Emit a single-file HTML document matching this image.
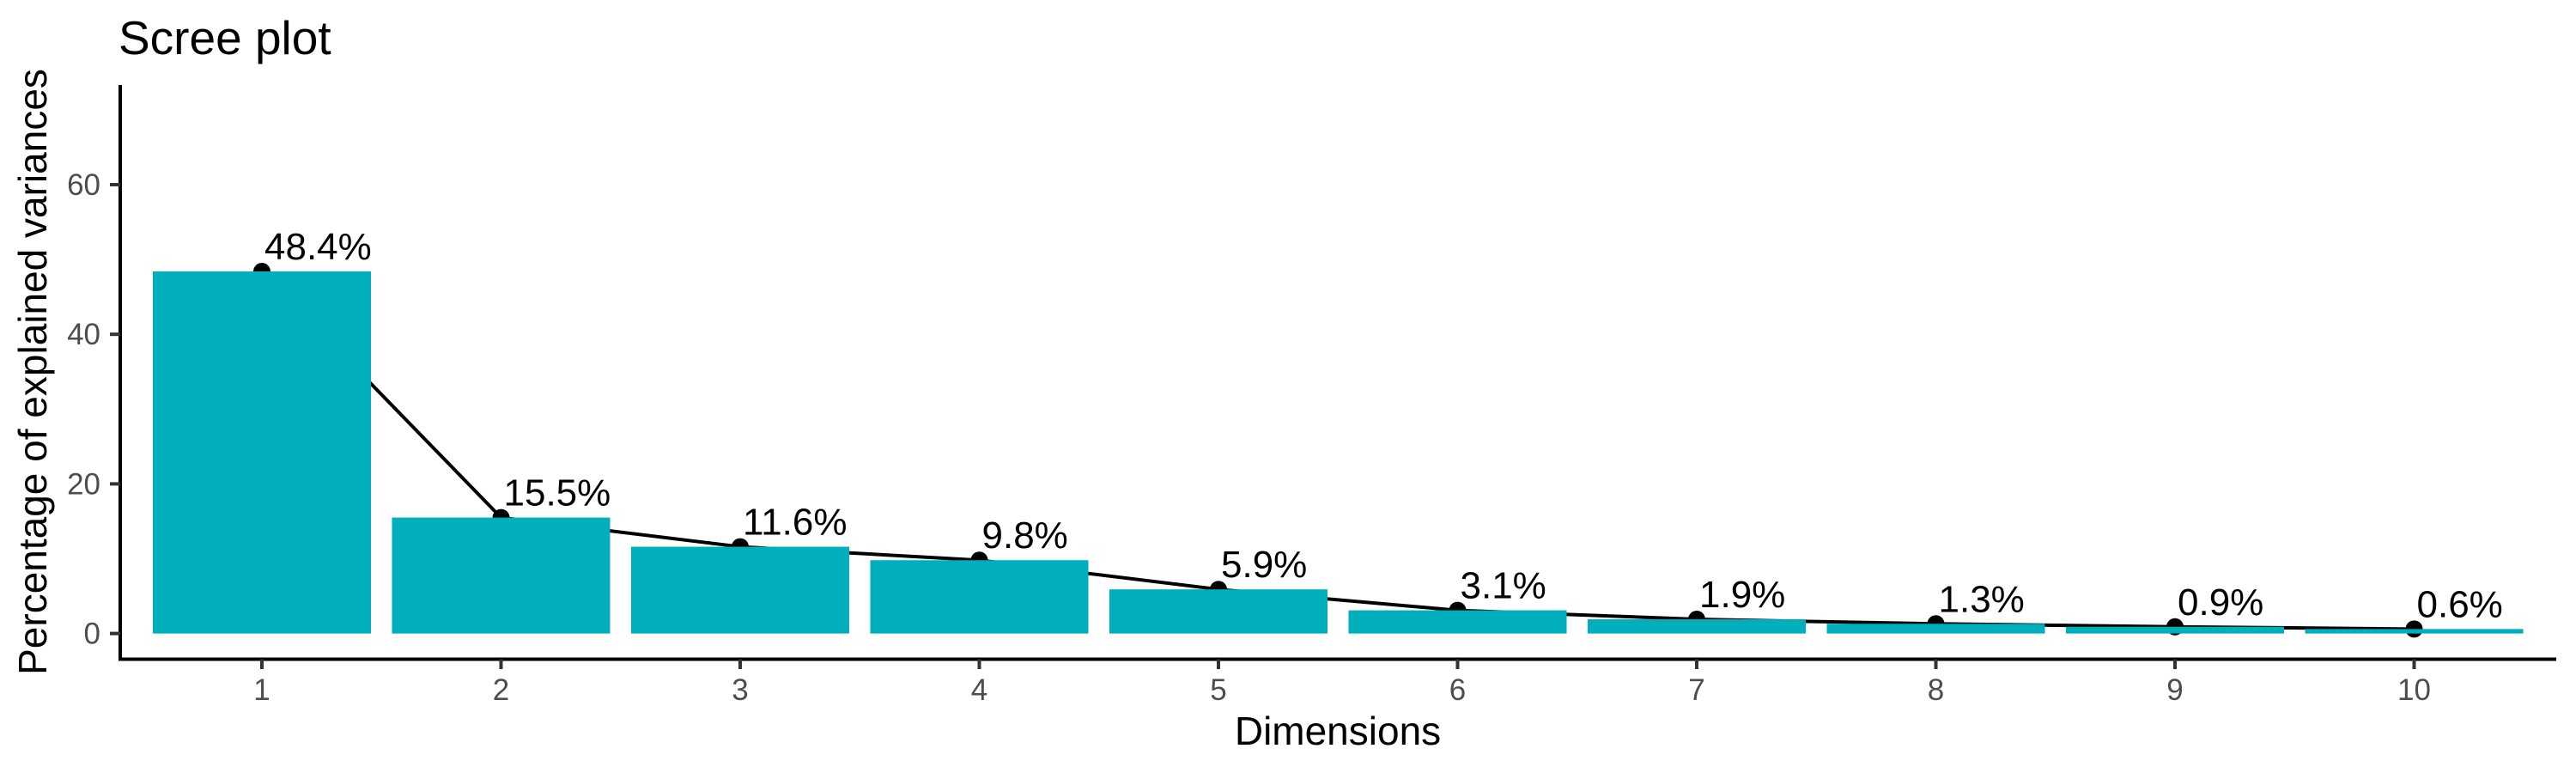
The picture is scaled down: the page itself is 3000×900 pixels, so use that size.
<!DOCTYPE html>
<html><head><meta charset="utf-8"><style>
html,body{margin:0;padding:0;background:#fff;}
svg{display:block;font-family:"Liberation Sans",sans-serif;}
</style></head><body>
<svg id="chart" width="3000" height="900" viewBox="0 0 3000 900" xmlns="http://www.w3.org/2000/svg">
<rect width="3000" height="900" fill="#fff"/>
<text x="138" y="63" font-size="55" fill="#000">Scree plot</text>
<g id="line"></g><g id="bars"></g><g id="labels"></g>
<line x1="140" y1="99" x2="140" y2="769" stroke="#000" stroke-width="4"/>
<line x1="138" y1="767.5" x2="2977" y2="767.5" stroke="#000" stroke-width="4"/>
<g id="yticks"></g><g id="xticks"></g>
<text x="1558" y="867" font-size="46" text-anchor="middle" fill="#000">Dimensions</text>
<text transform="translate(54,433) rotate(-90)" font-size="46" text-anchor="middle" fill="#000">Percentage of explained variances</text>
</svg>
<script>
const categories = [1,2,3,4,5,6,7,8,9,10];
const variances = [48.4,15.5,11.6,9.8,5.9,3.1,1.9,1.3,0.9,0.6];
const valueLabels = ["48.4%","15.5%","11.6%","9.8%","5.9%","3.1%","1.9%","1.3%","0.9%","0.6%"];
const yTicks = [0,20,40,60];

const NS = "http://www.w3.org/2000/svg";
const x = v => 305 + (v - 1) * 278.5;
const y = v => 737.6 - v * 8.71;
const bw = 254;
function mk(tag, attrs, parent){const e=document.createElementNS(NS,tag);for(const k in attrs)e.setAttribute(k,attrs[k]);document.getElementById(parent).appendChild(e);return e;}

const pts = categories.map((c,i)=>x(c)+','+y(variances[i])).join(' ');
const pl = mk('polyline',{points:pts,fill:'none',stroke:'#000','stroke-width':4},'line');


categories.forEach((c,i)=>{
  const p = mk('circle',{cx:x(c),cy:y(variances[i]),r:10,fill:'#000'},'line');
  
  
  const r = mk('rect',{x:x(c)-bw/2,y:y(variances[i]),width:bw,height:y(0)-y(variances[i]),fill:'#00AFBB'},'bars');
  
  
  const t = mk('text',{x:x(c)+3,y:y(variances[i])-14,'font-size':44,fill:'#000'},'labels');
  t.textContent = valueLabels[i];
  
  
  const tk = mk('line',{x1:x(c),y1:767.5,x2:x(c),y2:779,stroke:'#333','stroke-width':4},'xticks');
  
  
  const tl = mk('text',{x:x(c),y:815,'font-size':35,fill:'#4d4d4d','text-anchor':'middle'},'xticks');
  tl.textContent = c;
  
  
});
yTicks.forEach(v=>{
  const tk = mk('line',{x1:128,y1:y(v),x2:140,y2:y(v),stroke:'#333','stroke-width':4},'yticks');
  
  
  const tl = mk('text',{x:117,y:y(v)+12,'font-size':35,fill:'#4d4d4d','text-anchor':'end'},'yticks');
  tl.textContent = v;
  
  
});
</script>
</body></html>
